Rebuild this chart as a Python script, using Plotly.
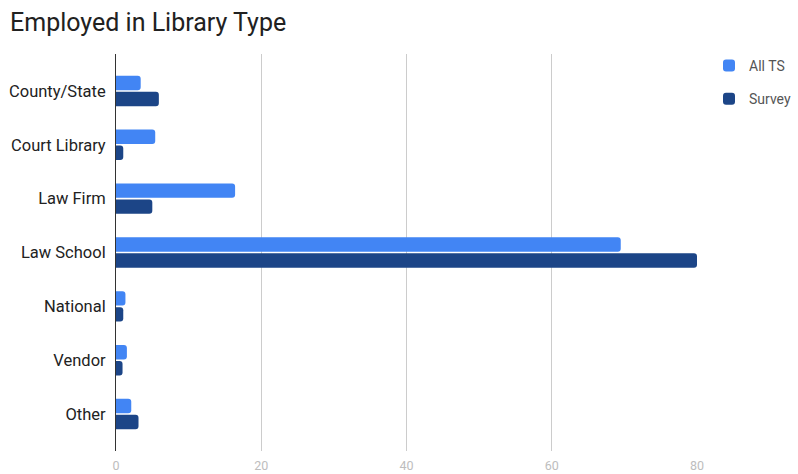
import plotly.graph_objects as go

categories = ["County/State", "Court Library", "Law Firm", "Law School", "National", "Vendor", "Other"]
all_ts = [3.4, 5.4, 16.4, 69.5, 1.3, 1.5, 2.1]
survey = [5.9, 1.0, 5.0, 80.0, 1.0, 0.9, 3.1]
x_ticks = [0, 20, 40, 60, 80]

FONT = "Roboto, Arial, sans-serif"

fig = go.Figure()
fig.add_trace(go.Bar(
    y=categories, x=all_ts, orientation="h", name="All TS",
    marker=dict(color="#4285f4", line=dict(width=0)), legendgroup="a",
))
fig.add_trace(go.Bar(
    y=categories, x=survey, orientation="h", name="Survey",
    marker=dict(color="#1c4587", line=dict(width=0)), legendgroup="b",
))

pad = 10 / 53.8
fig.update_layout(
    width=798, height=474,
    margin=dict(l=116, r=101, t=54, b=23, autoexpand=False),
    paper_bgcolor="white", plot_bgcolor="white",
    barmode="group", bargap=0.405, bargroupgap=0.1, barcornerradius=3,
    title=dict(text="Employed in Library Type", x=10 / 798, xref="container", xanchor="left",
               y=1 - 22 / 474, yref="container", yanchor="middle",
               font=dict(family=FONT, size=25, color="#212121")),
    font=dict(family=FONT),
    showlegend=True,
    legend=dict(x=709 / 798, xref="container", xanchor="left",
                y=1 - 50 / 474, yref="container", yanchor="top",
                font=dict(family=FONT, size=14, color="#555555"),
                tracegroupgap=12, bgcolor="rgba(0,0,0,0)"),
    xaxis=dict(range=[0, 80], tickvals=x_ticks, showgrid=True, gridcolor="#cccccc",
               gridwidth=1, zeroline=False, showline=False, ticks="", ticklabelstandoff=5,
               tickfont=dict(family=FONT, size=12.5, color="#bdbdbd"), fixedrange=True),
    yaxis=dict(categoryorder="array", categoryarray=categories,
               range=[6.5 + pad, -0.5 - pad], showline=True, linecolor="#333333",
               linewidth=1, showgrid=False, ticks="", ticklabelstandoff=6,
               tickfont=dict(family=FONT, size=16.5, color="#222222"), fixedrange=True),
)

fig.write_html("out.html")
